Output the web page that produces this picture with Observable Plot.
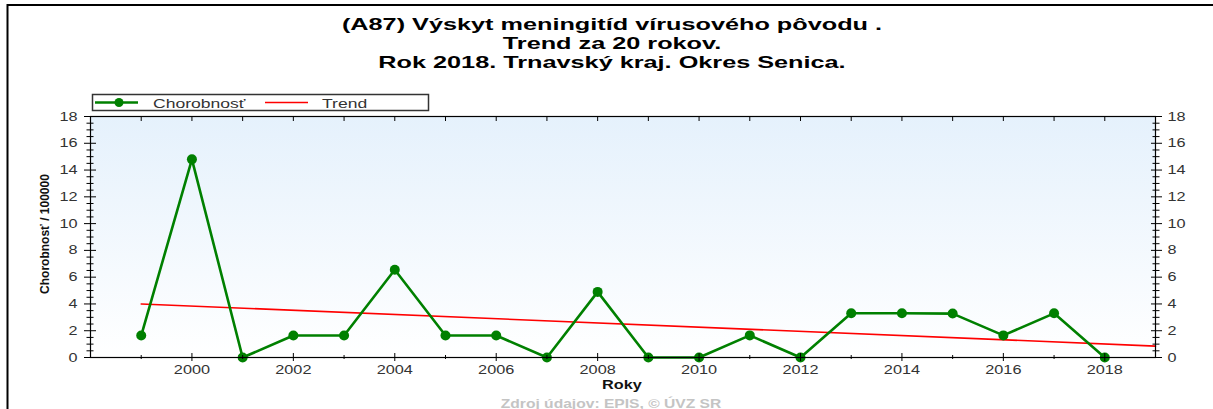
<!DOCTYPE html>
<html>
<head>
<meta charset="utf-8">
<script src="https://cdn.jsdelivr.net/npm/d3@7"></script>
<script src="https://cdn.jsdelivr.net/npm/@observablehq/plot@0.6"></script>
<style>
  body { margin: 0; background: #fff; }
  #chart { position: relative; width: 1213px; height: 409px; overflow: hidden; }
</style>
</head>
<body>
<div id="chart"></div>
<script>
// ---------- data ----------
const years = [1999, 2000, 2001, 2002, 2003, 2004, 2005, 2006, 2007, 2008,
               2009, 2010, 2011, 2012, 2013, 2014, 2015, 2016, 2017, 2018];
const values = [1.64, 14.8, 0, 1.64, 1.64, 6.55, 1.64, 1.64, 0, 4.9,
                0, 0, 1.65, 0, 3.3, 3.3, 3.28, 1.65, 3.3, 0];
const trendYears = [1999, 2019];
const trendValues = [4.0, 0.85];

const xTickYears = [1999, 2000, 2001, 2002, 2003, 2004, 2005, 2006, 2007, 2008,
                    2009, 2010, 2011, 2012, 2013, 2014, 2015, 2016, 2017, 2018];
const xMinorYears = [1999, 2001, 2003, 2005, 2007, 2009, 2011, 2013, 2015, 2017];
const xLabelYears = [2000, 2002, 2004, 2006, 2008, 2010, 2012, 2014, 2016, 2018];
const yMajorTicks = [0, 2, 4, 6, 8, 10, 12, 14, 16, 18];
const yMinorTicks = [0.5, 1, 1.5, 2.5, 3, 3.5, 4.5, 5, 5.5, 6.5, 7, 7.5, 8.5, 9, 9.5,
                     10.5, 11, 11.5, 12.5, 13, 13.5, 14.5, 15, 15.5, 16.5, 17, 17.5];

const titleLines = [
  "(A87) Výskyt meningitíd vírusového pôvodu .",
  "Trend za 20 rokov.",
  "Rok 2018. Trnavský kraj. Okres Senica."
];
const seriesNames = ["Chorobnosť", "Trend"];
const xTitle = "Roky";
const yTitle = "Chorobnosť / 100000";
const sourceText = "Zdroj údajov: EPIS, © ÚVZ SR";

const data = years.map((year, i) => ({year, value: values[i]}));
const trend = trendYears.map((year, i) => ({year, value: trendValues[i]}));

// ---------- chart ----------
const W = 1213, H = 409;
const FONT = "'Liberation Sans', Arial, sans-serif";
const fmt = d => String(d);
const none = () => "";

const plot = Plot.plot({
  width: W, height: H,
  marginLeft: 90, marginRight: 58, marginTop: 116, marginBottom: 52,
  style: {fontFamily: FONT, fontSize: "12.5px", color: "#333", background: "transparent", overflow: "visible"},
  x: {domain: [1998, 2019], axis: null},
  y: {domain: [0, 18], axis: null},
  marks: [
    Plot.frame({fill: "url(#plotBg)", stroke: null}),
    Plot.line(trend, {x: "year", y: "value", stroke: "#ff0000", strokeWidth: 1.6}),
    Plot.line(data, {x: "year", y: "value", stroke: "#008000", strokeWidth: 2.6}),
    Plot.dot(data, {x: "year", y: "value", r: 5, fill: "#008000", stroke: null}),
    Plot.frame({stroke: "#000", strokeWidth: 1.2}),
    // x ticks (bottom, crossing)
    Plot.axisX(xMinorYears, {anchor: "bottom", tickSize: 4, dy: -2, tickFormat: none, stroke: "#000", label: null}),
    Plot.axisX(xLabelYears, {anchor: "bottom", tickSize: 8, dy: -4, tickFormat: none, stroke: "#000", label: null}),
    // x ticks (top, inward)
    Plot.axisX(xTickYears, {anchor: "top", tickSize: 4, dy: 4, tickFormat: none, stroke: "#000", label: null}),
    // x labels
    Plot.axisX(xLabelYears, {anchor: "bottom", tickSize: 0, tickPadding: 8, tickFormat: fmt, fill: "#333", fontSize: 12.5, label: null}),
    // y ticks left
    Plot.axisY(yMajorTicks, {anchor: "left", tickSize: 12, dx: 6, tickFormat: none, stroke: "#000", label: null}),
    Plot.axisY(yMinorTicks, {anchor: "left", tickSize: 7, dx: 3.5, tickFormat: none, stroke: "#000", label: null}),
    Plot.axisY(yMajorTicks, {anchor: "left", tickSize: 0, tickPadding: 13, tickFormat: fmt, fill: "#333", fontSize: 12.5, label: null}),
    // y ticks right
    Plot.axisY(yMajorTicks, {anchor: "right", tickSize: 11, dx: -5, tickFormat: none, stroke: "#000", label: null}),
    Plot.axisY(yMinorTicks, {anchor: "right", tickSize: 7, dx: -3.5, tickFormat: none, stroke: "#000", label: null}),
    Plot.axisY(yMajorTicks, {anchor: "right", tickSize: 0, tickPadding: 12, tickFormat: fmt, fill: "#333", fontSize: 12.5, label: null})
  ]
});

document.getElementById("chart").appendChild(plot);
const svg = d3.select(plot);

// gradient background
const grad = svg.insert("defs", ":first-child").append("linearGradient")
  .attr("id", "plotBg").attr("x1", 0).attr("y1", 0).attr("x2", 0).attr("y2", 1);
grad.append("stop").attr("offset", "0%").attr("stop-color", "#e5f1fc");
grad.append("stop").attr("offset", "100%").attr("stop-color", "#ffffff");

const ov = svg.append("g").attr("font-family", FONT).attr("text-anchor", "start");

// outer border
ov.append("path").attr("d", `M7.5,${H} V5 H${W}`).attr("fill", "none").attr("stroke", "#000").attr("stroke-width", 2);

// titles
const titleY = [30, 49, 68];
titleLines.forEach((t, i) => {
  ov.append("text").attr("class", "st").attr("x", 612).attr("y", titleY[i])
    .attr("text-anchor", "middle").attr("font-weight", "bold").attr("font-size", 16.5)
    .attr("fill", "#000").text(t);
});

// legend
const lg = ov.append("g");
lg.append("rect").attr("x", 92.5).attr("y", 94.5).attr("width", 336).attr("height", 16)
  .attr("fill", "#fff").attr("stroke", "#333").attr("stroke-width", 1.5);
lg.append("line").attr("x1", 95).attr("x2", 138).attr("y1", 102.5).attr("y2", 102.5)
  .attr("stroke", "#008000").attr("stroke-width", 2.5);
lg.append("circle").attr("cx", 119).attr("cy", 102.5).attr("r", 4.5).attr("fill", "#008000");
lg.append("text").attr("class", "s").attr("x", 153).attr("y", 107.5).attr("font-size", 13.5)
  .attr("text-anchor", "start").attr("fill", "#333").text(seriesNames[0]);
lg.append("line").attr("x1", 265).attr("x2", 308).attr("y1", 102.5).attr("y2", 102.5)
  .attr("stroke", "#ff0000").attr("stroke-width", 1.6);
lg.append("text").attr("class", "s").attr("x", 322).attr("y", 107.5).attr("font-size", 13.5)
  .attr("text-anchor", "start").attr("fill", "#333").text(seriesNames[1]);

// axis titles
ov.append("text").attr("class", "s").attr("x", 622).attr("y", 389).attr("text-anchor", "middle")
  .attr("font-weight", "bold").attr("font-size", 12.5).attr("fill", "#111").text(xTitle);
ov.append("text").attr("transform", "translate(49,234) rotate(-90)").attr("text-anchor", "middle")
  .attr("font-weight", "bold").attr("font-size", 12).attr("fill", "#111").text(yTitle);

// source
ov.append("text").attr("class", "s").attr("x", 611).attr("y", 407.5).attr("text-anchor", "middle")
  .attr("font-weight", "bold").attr("font-size", 12).attr("fill", "#c4c4c4").text(sourceText);

// horizontal stretch of texts (the reference is horizontally stretched)
function stretch(sel, f) {
  sel.each(function () {
    const w = this.getComputedTextLength();
    if (w > 0) {
      this.setAttribute("textLength", (w * f).toFixed(1));
      this.setAttribute("lengthAdjust", "spacingAndGlyphs");
    }
  });
}
stretch(svg.selectAll("g[aria-label$='tick label'] text"), 1.3);
stretch(svg.selectAll("text.s"), 1.3);
stretch(svg.selectAll("text.st"), 1.53);
</script>
</body>
</html>
